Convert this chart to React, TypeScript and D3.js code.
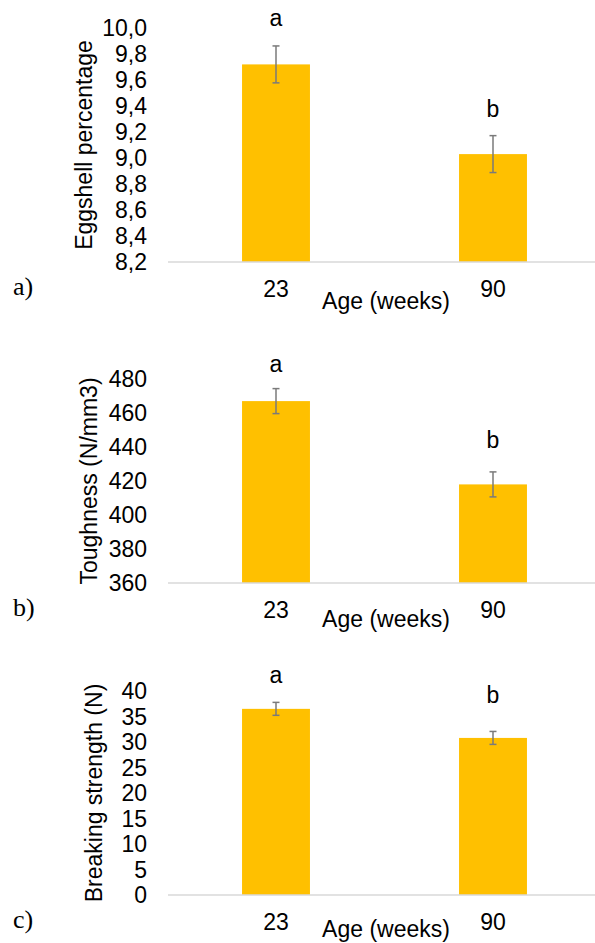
import React from "react";
import * as d3 from "d3";

const categories = ["23", "90"];
const letters = ["a", "b"];

const eggshellValues = [9.72, 9.03];
const eggshellErrors = [0.142, 0.142];
const eggshellTicks = [8.2, 8.4, 8.6, 8.8, 9.0, 9.2, 9.4, 9.6, 9.8, 10.0];
const eggshellLetterAt = [10.015, 9.315];

const toughnessValues = [467, 418];
const toughnessErrors = [7.35, 7.35];
const toughnessTicks = [360, 380, 400, 420, 440, 460, 480];
const toughnessLetterAt = [484.1, 439.4];

const strengthValues = [36.5, 30.8];
const strengthErrors = [1.27, 1.27];
const strengthTicks = [0, 5, 10, 15, 20, 25, 30, 35, 40];
const strengthLetterAt = [41.6, 37.6];

const SANS = "'Liberation Sans', Arial, sans-serif";
const SERIF = "'Liberation Serif', 'Times New Roman', serif";
const BAR = "#FFC000";

type PanelProps = {
  values: number[];
  errors: number[];
  ticks: number[];
  letterAt: number[];
  fmt: (v: number) => string;
  top: number;
  bottom: number;
  title: string;
  titleX: number;
  ageDy: number;
  panelLabel: string;
};

function Panel(p: PanelProps) {
  const x = d3.scaleBand<string>().domain(categories).range([167.5, 601.5]).padding(0);
  const barW = x.bandwidth() * 0.313;
  const y = d3
    .scaleLinear()
    .domain([p.ticks[0], p.ticks[p.ticks.length - 1]])
    .range([p.bottom, p.top]);
  const base = p.bottom;
  return (
    <g>
      {p.ticks.map((t) => (
        <text
          key={t}
          x={147}
          y={y(t)}
          dy="0.36em"
          textAnchor="end"
          fontFamily={SANS}
          fontSize={23}
          fill="#000"
        >
          {p.fmt(t)}
        </text>
      ))}
      <text
        transform={`translate(${p.titleX},${(p.top + p.bottom) / 2}) rotate(-90)`}
        textAnchor="middle"
        fontFamily={SANS}
        fontSize={23}
        fill="#000"
      >
        {p.title}
      </text>
      {categories.map((c, i) => {
        const cx = (x(c) as number) + x.bandwidth() / 2;
        return (
          <rect
            key={c}
            x={cx - barW / 2}
            y={y(p.values[i])}
            width={barW}
            height={base - y(p.values[i])}
            fill={BAR}
          />
        );
      })}
      <line x1={168} x2={595} y1={base} y2={base} stroke="#d9d9d9" strokeWidth={1.3} />
      {categories.map((c, i) => {
        const cx = (x(c) as number) + x.bandwidth() / 2;
        const yt = y(p.values[i] + p.errors[i]);
        const yb = y(p.values[i] - p.errors[i]);
        return (
          <g key={"e" + c} stroke="#7a7a7a" strokeWidth={1.5}>
            <line x1={cx} x2={cx} y1={yt} y2={yb} />
            <line x1={cx - 3.5} x2={cx + 3.5} y1={yt} y2={yt} />
            <line x1={cx - 3.5} x2={cx + 3.5} y1={yb} y2={yb} />
          </g>
        );
      })}
      {categories.map((c, i) => {
        const cx = (x(c) as number) + x.bandwidth() / 2;
        return (
          <text
            key={"l" + c}
            x={cx}
            y={y(p.letterAt[i])}
            textAnchor="middle"
            fontFamily={SANS}
            fontSize={23}
            fill="#000"
          >
            {letters[i]}
          </text>
        );
      })}
      {categories.map((c) => {
        const cx = (x(c) as number) + x.bandwidth() / 2;
        return (
          <text
            key={"t" + c}
            x={cx}
            y={base + 35}
            textAnchor="middle"
            fontFamily={SANS}
            fontSize={23}
            fill="#000"
          >
            {c}
          </text>
        );
      })}
      <text
        x={386}
        y={base + p.ageDy}
        textAnchor="middle"
        fontFamily={SANS}
        fontSize={23}
        fill="#000"
      >
        Age (weeks)
      </text>
      <text x={13} y={base + 33} fontFamily={SERIF} fontSize={26} fill="#000">
        {p.panelLabel}
      </text>
    </g>
  );
}

export default function App() {
  const comma1 = (v: number) => v.toFixed(1).replace(".", ",");
  const int = (v: number) => String(v);
  return (
    <svg
      width={595}
      height={943}
      viewBox="0 0 595 943"
      style={{ position: "absolute", left: 0, top: 0, background: "#fff" }}
    >
      <rect x={0} y={0} width={595} height={943} fill="#fff" />
      <Panel
        values={eggshellValues}
        errors={eggshellErrors}
        ticks={eggshellTicks}
        letterAt={eggshellLetterAt}
        fmt={comma1}
        top={28}
        bottom={262}
        title="Eggshell percentage"
        titleX={91.5}
        ageDy={47}
        panelLabel="a)"
      />
      <Panel
        values={toughnessValues}
        errors={toughnessErrors}
        ticks={toughnessTicks}
        letterAt={toughnessLetterAt}
        fmt={int}
        top={379}
        bottom={583}
        title="Toughness (N/mm3)"
        titleX={96.5}
        ageDy={44}
        panelLabel="b)"
      />
      <Panel
        values={strengthValues}
        errors={strengthErrors}
        ticks={strengthTicks}
        letterAt={strengthLetterAt}
        fmt={int}
        top={691}
        bottom={895}
        title="Breaking strength (N)"
        titleX={101.5}
        ageDy={42}
        panelLabel="c)"
      />
    </svg>
  );
}
